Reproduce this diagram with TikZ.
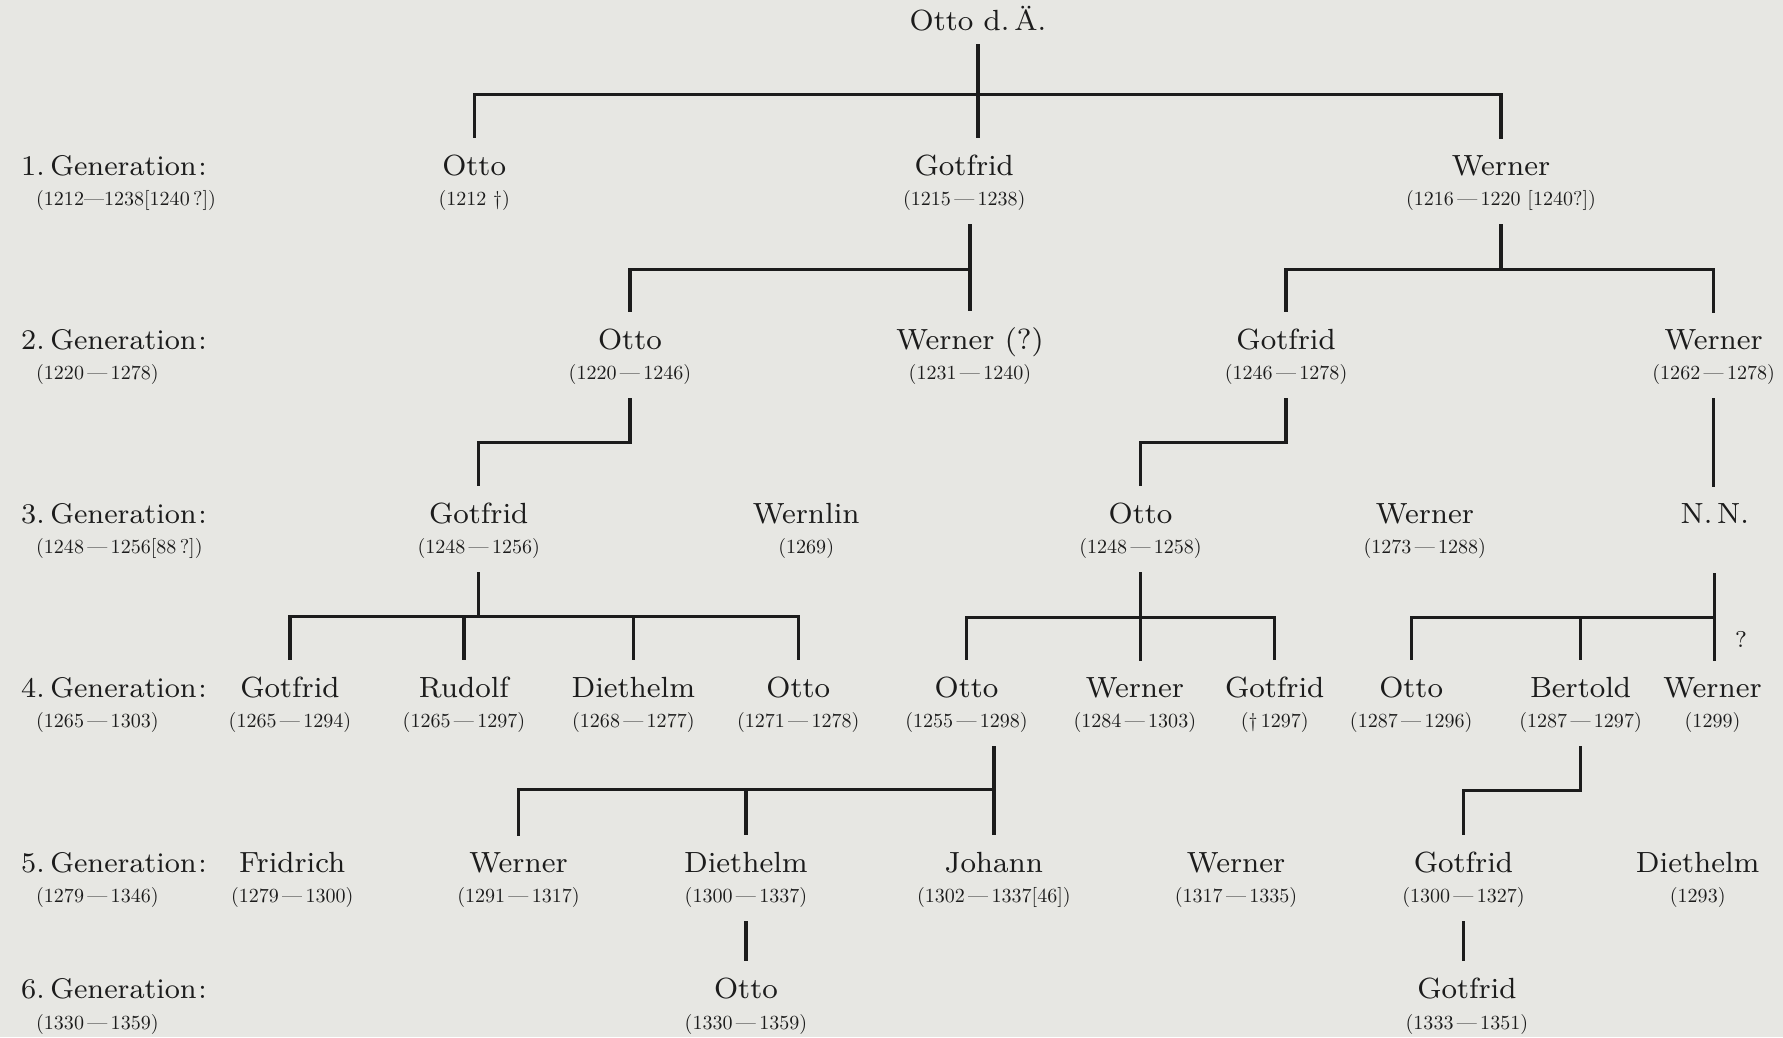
\documentclass[tikz,border=0pt]{standalone}
\usepackage{graphicx}
\usetikzlibrary{positioning}

\definecolor{paper}{RGB}{231,231,227}
\definecolor{ink}{RGB}{28,28,28}
\newcommand\yrs[1]{\scalebox{0.57}{\fontsize{10}{12}\selectfont#1}}

\begin{document}
\begin{tikzpicture}[x=0.11371mm,y=-0.11371mm,
   pers/.style={align=center,anchor=base,inner sep=0pt,text=ink,font=\fontsize{8.3}{8.7}\selectfont},
   gen/.style={align=left,anchor=base west,inner sep=0pt,text=ink,font=\fontsize{8.1}{8.7}\selectfont},
   lineage/.style={draw=ink,line width=0.95pt,line cap=rect},
   trunk/.style={lineage,shorten <=4pt},
   drop/.style={lineage,shorten >=5pt}]
   \fill[paper] (0,0) rectangle (1568,912);

   % generations
   \node[gen] (g1) at (18,181) {1.\kern1.6pt Generation\kern.5pt:\\\hspace*{1.5mm}\yrs{(1212---1238[1240\,?])}};
   \node[gen] (g2) at (18,334) {2.\kern1.6pt Generation\kern.5pt:\\\hspace*{1.5mm}\yrs{(1220\,---\,1278)}};
   \node[gen] (g3) at (18,487) {3.\kern1.6pt Generation\kern.5pt:\\\hspace*{1.5mm}\yrs{(1248\,---\,1256[88\,?])}};
   \node[gen] (g4) at (18,640) {4.\kern1.6pt Generation\kern.5pt:\\\hspace*{1.5mm}\yrs{(1265\,---\,1303)}};
   \node[gen] (g5) at (18,794) {5.\kern1.6pt Generation\kern.5pt:\\\hspace*{1.5mm}\yrs{(1279\,---\,1346)}};
   \node[gen] (g6) at (18,905) {6.\kern1.6pt Generation\kern.5pt:\\\hspace*{1.5mm}\yrs{(1330\,---\,1359)}};

   \node[pers] (ottoda) at (860,27) {Otto d.\,Ä.};
   % 1.
   \node[pers] (otto1) at (417,181) {Otto\\\yrs{(1212 \textdagger)}};
   \node[pers] (gotfrid1) at (848,181) {Gotfrid\\\yrs{(1215\,---\,1238)}};
   \node[pers] (werner1) at (1320,181) {Werner\\\yrs{(1216\,---\,1220 [1240?])}};
   % 2.
   \node[pers] (otto2) at (554,334) {Otto\\\yrs{(1220\,---\,1246)}};
   \node[pers] (wernerq2) at (853,334) {Werner (?)\\\yrs{(1231\,---\,1240)}};
   \node[pers] (gotfrid2) at (1131,334) {Gotfrid\\\yrs{(1246\,---\,1278)}};
   \node[pers] (werner2) at (1507,334) {Werner\\\yrs{(1262\,---\,1278)}};
   % 3.
   \node[pers] (gotfrid3) at (421,487) {Gotfrid\\\yrs{(1248\,---\,1256)}};
   \node[pers] (wernlin3) at (709,487) {Wernlin\\\yrs{(1269)}};
   \node[pers] (otto3) at (1003,487) {Otto\\\yrs{(1248\,---\,1258)}};
   \node[pers] (werner3) at (1253,487) {Werner\\\yrs{(1273\,---\,1288)}};
   \node[pers] (nn3) at (1508,460) {N.\,N.};
   % 4.
   \node[pers] (gotfrid4) at (255,640) {Gotfrid\\\yrs{(1265\,---\,1294)}};
   \node[pers] (rudolf4) at (408,640) {Rudolf\\\yrs{(1265\,---\,1297)}};
   \node[pers] (diethelm4) at (557,640) {Diethelm\\\yrs{(1268\,---\,1277)}};
   \node[pers] (otto4) at (702,640) {Otto\\\yrs{(1271\,---\,1278)}};
   \node[pers] (ottob4) at (850,640) {Otto\\\yrs{(1255\,---\,1298)}};
   \node[pers] (werner4) at (998,640) {Werner\\\yrs{(1284\,---\,1303)}};
   \node[pers] (gotfridb4) at (1121,640) {Gotfrid\\\yrs{(\textdagger\,1297)}};
   \node[pers] (ottoc4) at (1241,640) {Otto\\\yrs{(1287\,---\,1296)}};
   \node[pers] (bertold4) at (1390,640) {Bertold\\\yrs{(1287\,---\,1297)}};
   \node[pers] (wernerb4) at (1506,640) {Werner\\\yrs{(1299)}};
   \node[pers,font=\fontsize{6.5}{8}\selectfont] (unsure) at (1531,569) {?};
   % 5.
   \node[pers] (fridrich5) at (257,794) {Fridrich\\\yrs{(1279\,---\,1300)}};
   \node[pers] (werner5) at (456,794) {Werner\\\yrs{(1291\,---\,1317)}};
   \node[pers] (diethelm5) at (656,794) {Diethelm\\\yrs{(1300\,---\,1337)}};
   \node[pers] (johann5) at (874,794) {Johann\\\yrs{(1302\,---\,1337[46])}};
   \node[pers] (wernerb5) at (1087,794) {Werner\\\yrs{(1317\,---\,1335)}};
   \node[pers] (gotfrid5) at (1287,794) {Gotfrid\\\yrs{(1300\,---\,1327)}};
   \node[pers] (diethelmb5) at (1493,794) {Diethelm\\\yrs{(1293)}};
   % 6.
   \node[pers] (otto6) at (656,905) {Otto\\\yrs{(1330\,---\,1359)}};
   \node[pers] (gotfrid6) at (1290,905) {Gotfrid\\\yrs{(1333\,---\,1351)}};

   % Otto d. Ä.
   \draw[trunk,shorten >=5pt] (ottoda.south) -- (gotfrid1.north -| ottoda.south);
   \draw[lineage] (otto1.north |- 0,83) -- (werner1.north |- 0,83);
   \path (otto1.north |- 0,83) edge[drop] (otto1.north)
         (werner1.north |- 0,83) edge[drop] (werner1.north);
   % Gotfrid, Werner
   \draw[trunk,shorten >=5pt] (gotfrid1.south -| wernerq2.north) -- (wernerq2.north);
   \draw[lineage] (otto2.north |- 0,237) -- (wernerq2.north |- 0,237);
   \path (otto2.north |- 0,237) edge[drop] (otto2.north);
   \draw[trunk] (werner1.south) -- (werner1.south |- 0,237);
   \draw[lineage] (gotfrid2.north |- 0,237) -- (werner2.north |- 0,237);
   \path (gotfrid2.north |- 0,237) edge[drop] (gotfrid2.north)
         (werner2.north |- 0,237) edge[drop] (werner2.north);
   % 2. -> 3.
   \draw[trunk] (otto2.south) -- (otto2.south |- 0,389);
   \draw[lineage] (gotfrid3.north |- 0,389) -- (otto2.south |- 0,389);
   \path (gotfrid3.north |- 0,389) edge[drop] (gotfrid3.north);
   \draw[trunk] (gotfrid2.south) -- (gotfrid2.south |- 0,389);
   \draw[lineage] (otto3.north |- 0,389) -- (gotfrid2.south |- 0,389);
   \path (otto3.north |- 0,389) edge[drop] (otto3.north);
   \draw[trunk,shorten >=5pt] (werner2.south) -- (nn3.north -| werner2.south);
   % 3. -> 4.
   \draw[trunk] (gotfrid3.south) -- (gotfrid3.south |- 0,542);
   \draw[lineage] (gotfrid4.north |- 0,542) -- (otto4.north |- 0,542);
   \path (gotfrid4.north |- 0,542) edge[drop] (gotfrid4.north)
         (rudolf4.north |- 0,542) edge[drop] (rudolf4.north)
         (diethelm4.north |- 0,542) edge[drop] (diethelm4.north)
         (otto4.north |- 0,542) edge[drop] (otto4.north);
   \draw[trunk,shorten >=5pt] (otto3.south) -- (werner4.north -| otto3.south);
   \draw[lineage] (ottob4.north |- 0,543) -- (gotfridb4.north |- 0,543);
   \path (ottob4.north |- 0,543) edge[drop] (ottob4.north)
         (gotfridb4.north |- 0,543) edge[drop] (gotfridb4.north);
   \draw[lineage,shorten <=14.5pt,shorten >=5pt] (nn3.south) -- (wernerb4.north -| nn3.south);
   \draw[lineage] (ottoc4.north |- 0,543) -- (nn3.south |- 0,543);
   \path (ottoc4.north |- 0,543) edge[drop] (ottoc4.north)
         (bertold4.north |- 0,543) edge[drop] (bertold4.north);
   % 4. -> 5.
   \draw[trunk,shorten >=5pt] (ottob4.south -| johann5.north) -- (johann5.north);
   \draw[lineage] (werner5.north |- 0,694) -- (johann5.north |- 0,694);
   \path (werner5.north |- 0,694) edge[drop] (werner5.north)
         (diethelm5.north |- 0,694) edge[drop] (diethelm5.north);
   \draw[trunk] (bertold4.south) -- (bertold4.south |- 0,695);
   \draw[lineage] (gotfrid5.north |- 0,695) -- (bertold4.south |- 0,695);
   \path (gotfrid5.north |- 0,695) edge[drop] (gotfrid5.north);
   % 5. -> 6.
   \draw[trunk,shorten >=5pt] (diethelm5.south) -- (otto6.north -| diethelm5.south);
   \draw[trunk,shorten >=5pt] (gotfrid5.south) -- (gotfrid6.north -| gotfrid5.south);
\end{tikzpicture}
\end{document}
